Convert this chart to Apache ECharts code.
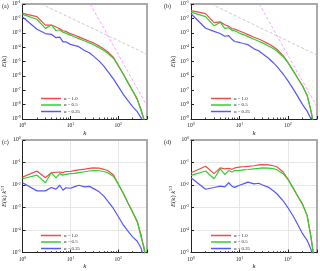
<!DOCTYPE html>
<html><head><meta charset="utf-8">
<script src="https://cdn.jsdelivr.net/npm/echarts@6/dist/echarts.min.js"></script>
<style>html,body{margin:0;padding:0;background:#fff}#c{width:320px;height:271px}</style>
</head><body><div id="c"></div>
<script>
// wavenumbers
const kValues = [1,2,3,4,5,6,7,8,10,12,15,20,25,30,40,50,60,80,100,130,160,200,250,300,350,400];
// compensated spectra E(k) k^{5/3}, case (a)/(c)
const compA_10  = [2.24e-2,4.2e-2,2.1e-2,3.5e-2,3.7e-2,3.8e-2,3.55e-2,4.0e-2,4.0e-2,4.4e-2,4.7e-2,5.1e-2,5.5e-2,5.75e-2,5.6e-2,5.0e-2,4.4e-2,2.8e-2,1.12e-2,4.0e-3,1.6e-3,6.3e-4,2.3e-4,6.3e-5,1.26e-5,1e-6];
const compA_05  = [1.9e-2,2.75e-2,1.26e-2,3.5e-2,2.1e-2,3.2e-2,2.75e-2,3.0e-2,3.2e-2,3.3e-2,3.55e-2,3.9e-2,4.2e-2,4.4e-2,4.3e-2,4.0e-2,3.55e-2,2.4e-2,1.12e-2,4.0e-3,1.6e-3,6.3e-4,2.5e-4,5.0e-5,1.6e-5,3.2e-6];
const compA_025 = [1.26e-2,5.5e-3,5.5e-3,7.8e-3,6.6e-3,9.8e-3,5.9e-3,7.6e-3,7.2e-3,8.3e-3,9.8e-3,8.3e-3,8.7e-3,7.1e-3,5.0e-3,3.2e-3,2.0e-3,8.9e-4,4.0e-4,1.6e-4,8.9e-5,5.0e-5,3.2e-5,1.6e-5,5.0e-6,1e-6];
// compensated spectra, case (b)/(d)
const compB_10  = [3.5e-2,6.8e-2,3.2e-2,5.75e-2,5.25e-2,5.5e-2,5.0e-2,5.75e-2,6.2e-2,6.5e-2,6.8e-2,7.2e-2,7.8e-2,8.1e-2,7.9e-2,7.2e-2,6.3e-2,3.8e-2,1.9e-2,7.1e-3,3.2e-3,1.45e-3,4.5e-4,5.0e-5,5.0e-6,1e-6];
const compB_05  = [2.7e-2,4.2e-2,1.9e-2,5.25e-2,2.95e-2,4.4e-2,3.8e-2,4.4e-2,4.4e-2,4.7e-2,4.9e-2,5.25e-2,5.5e-2,5.75e-2,5.6e-2,5.4e-2,4.7e-2,3.2e-2,1.78e-2,7.1e-3,3.2e-3,1.4e-3,4.5e-4,5.0e-5,5.0e-6,1e-6];
const compB_025 = [2.1e-2,6.5e-3,7.8e-3,8.9e-3,8.3e-3,1.26e-2,8.9e-3,7.9e-3,9.8e-3,1.12e-2,1.35e-2,1.12e-2,1.2e-2,1.0e-2,7.9e-3,5.6e-3,4.0e-3,2.0e-3,1.0e-3,4.0e-4,1.78e-4,7.1e-5,3.5e-5,1.4e-5,3.2e-6,1e-6];
// reference slope lines (end points)
const refA_53 = [[2.45,1e-1],[400,3.2e-5]];
const refA_6  = [[26,1e-1],[400,8e-9]];
const refB_53 = [[2.6,1e-1],[400,2.8e-5]];
const refB_6  = [[25.7,1e-1],[390,8e-9]];
const seriesNames = ['\u03b1 = 1.0','\u03b1 = 0.5','\u03b1 = 0.25'];
const seriesColors = ['#f04a4a','#2fd02f','#5656ff'];
const panelLabels = ['(a)','(b)','(c)','(d)'];

const FONT = 'Liberation Serif';
const chart = echarts.init(document.getElementById('c'), null, {renderer:'canvas'});
const grids = [
  {left:21, top:4, width:126, height:115},
  {left:191, top:4, width:126, height:115},
  {left:21, top:140, width:126, height:114},
  {left:191, top:140, width:126, height:114}
];
const rich = {
  b:{fontSize:5.5, fontFamily:FONT, color:'#222'},
  s:{fontSize:3.8, fontFamily:FONT, color:'#222', padding:[0,0,3,0]}
};
const tickFmt = v => '{b|10}{s|' + Math.round(Math.log10(v)) + '}';
const xAxes = [], yAxes = [], series = [];
grids.forEach((g,i)=>{
  const comp = i>=2;
  xAxes.push({type:'log', gridIndex:i, min:1, max:400, logBase:10,
    axisLine:{lineStyle:{color:'#222', width:1}},
    axisTick:{inside:true, length:3, lineStyle:{color:'#222'}},
    minorTick:{show:true, splitNumber:9, length:1.5, lineStyle:{color:'#444'}},
    axisLabel:{formatter:tickFmt, rich:rich, margin:3, showMaxLabel:false},
    splitLine:{show:comp, lineStyle:{color:'#e6e6e6', width:1}},
    name:'k', nameLocation:'middle', nameGap:9,
    nameTextStyle:{fontFamily:FONT, fontStyle:'italic', fontSize:7, color:'#222'}
  });
  xAxes.push({type:'value', gridIndex:i, position:'top', min:0, max:1,
    axisLine:{lineStyle:{color:'#aaa', width:2}}, axisTick:{show:false}, axisLabel:{show:false}, splitLine:{show:false}});
  yAxes.push({type:'log', gridIndex:i, min: comp?1e-5:1e-9, max: comp?1:1e-1, logBase:10,
    splitNumber: comp?5:8,
    axisLine:{lineStyle:{color:'#222', width:1}},
    axisTick:{inside:true, length:3, lineStyle:{color:'#222'}},
    axisLabel:{formatter:tickFmt, rich:rich, margin:2},
    splitLine:{show:comp, lineStyle:{color:'#e6e6e6', width:1}},
    name: comp ? '{i|E}(k) {i|k}{s|5/3}' : '{i|E}(k)',
    nameLocation:'middle', nameGap:11, nameRotate:90,
    nameTextStyle:{fontFamily:FONT, fontSize:6.5, color:'#222',
      rich:{i:{fontFamily:FONT, fontStyle:'italic', fontSize:6.5, color:'#222'},
            s:{fontFamily:FONT, fontSize:4, color:'#222', padding:[0,0,3,0]}}}
  });
  yAxes.push({type:'value', gridIndex:i, position:'right', min:0, max:1,
    axisLine:{lineStyle:{color:'#aaa', width:2}}, axisTick:{show:false}, axisLabel:{show:false}, splitLine:{show:false}});
});
const compSets = [[compA_10,compA_05,compA_025],[compB_10,compB_05,compB_025]];
grids.forEach((g,i)=>{
  const set = compSets[i%2];
  const comp = i>=2;
  set.forEach((arr,j)=>{
    series.push({type:'line', name:seriesNames[j], xAxisIndex:2*i, yAxisIndex:2*i,
      showSymbol:false, symbol:'none', clip:true, z:3+j,
      lineStyle:{color:seriesColors[j], width:1.2}, itemStyle:{color:seriesColors[j]},
      data: kValues.map((k,n)=>[k, comp ? arr[n] : arr[n]/Math.pow(k,5/3)])
    });
  });
  if(!comp){
    const r53 = i===0?refA_53:refB_53, r6 = i===0?refA_6:refB_6;
    series.push({type:'line', xAxisIndex:2*i, yAxisIndex:2*i, symbol:'none', clip:true, z:2,
      lineStyle:{color:'#bdbdbd', width:0.8, type:[3,2]}, data:r53, silent:true,
      markPoint:{symbol:'none', silent:true, data:[{coord:[15,1.7e-2]}],
        label:{show:true, formatter:'{i|k}{s|-5/3}', rich:{i:{fontFamily:FONT,fontStyle:'italic',fontSize:6,color:'#777'}, s:{fontFamily:FONT,fontSize:3.8,color:'#777',padding:[0,0,3,0]}}}}});
    series.push({type:'line', xAxisIndex:2*i, yAxisIndex:2*i, symbol:'none', clip:true, z:2,
      lineStyle:{color:'#ff88ff', width:0.8, type:[3,2]}, data:r6, silent:true,
      markPoint:{symbol:'none', silent:true, data:[{coord:[233,7e-7]}],
        label:{show:true, formatter:'{i|k}{s|-6}', rich:{i:{fontFamily:FONT,fontStyle:'italic',fontSize:6,color:'#ff55ff'}, s:{fontFamily:FONT,fontSize:3.8,color:'#ff55ff',padding:[0,0,3,0]}}}}});
  }
});
const legends = grids.map((g,i)=>({
  data:seriesNames, orient:'vertical', left:g.left+15, top: i<2?91:228,
  itemWidth:20, itemHeight:1.5, itemGap:1.5, icon:'rect', selectedMode:false,
  textStyle:{fontFamily:FONT, fontSize:4.8, color:'#222', padding:[0,0,0,-2]}
}));
const graphics = grids.map((g,i)=>({type:'text', left: (i%2?164:2), top: g.top-1,
  style:{text:panelLabels[i], font:'6px "Liberation Serif"', fill:'#222'}}));
chart.setOption({
  animation:false, backgroundColor:'#fff',
  grid:grids, xAxis:xAxes, yAxis:yAxes, series:series, legend:legends, graphic:graphics
});
</script></body></html>
